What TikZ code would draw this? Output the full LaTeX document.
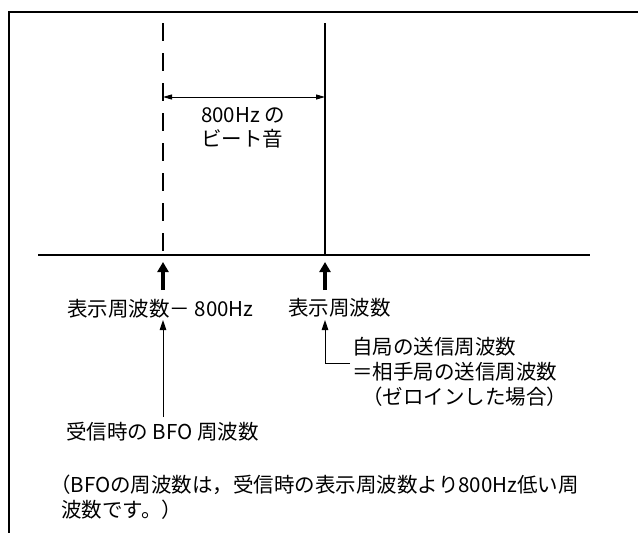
\documentclass[tikz,border=0pt]{standalone}
\usepackage{fontspec}
\setmainfont{Noto Sans CJK JP}
\usetikzlibrary{arrows.meta}
\begin{document}
\begin{tikzpicture}[x=1pt,y=-1pt,
  lbl/.style={anchor=west,inner sep=0pt,font=\fontsize{20.5}{21}\selectfont},
  axis/.style={line width=1.8pt},
  thickarrow/.style={line width=3.6pt,-{Triangle[width=11pt,length=10pt]}},
  thinarrow/.style={line width=1pt,-{Triangle[width=6.5pt,length=10pt]}},
  dimarrow/.style={line width=1pt,{Triangle[width=5pt,length=9pt]}-{Triangle[width=5pt,length=9pt]}}]
\useasboundingbox (0,0) rectangle (638,533);
% frame
\draw[line width=1.8pt] (9,533) -- (9,12) -- (638,12);
% axis and frequency lines
\coordinate (axL) at (38,255);
\coordinate (axR) at (590,255);
\coordinate (bfoTop) at (163,23);
\coordinate (bfoBot) at (163,255);
\coordinate (dspTop) at (325,23);
\coordinate (dspBot) at (325,255);
\draw[axis] (axL) -- (axR);
\draw[line width=1.8pt,dash pattern=on 18pt off 12pt] (bfoTop) -- (bfoBot);
\draw[axis] (dspTop) -- (dspBot);
% dimension
\coordinate (dimL) at (163,97);
\coordinate (dimR) at (325,97);
\draw[dimarrow] (dimL) -- (dimR);
\node[lbl] (beat1) at (201,115) {800Hz の};
\node[lbl] (beat2) at (201,139) {ビート音};
% thick arrows
\coordinate (ta1s) at (163,290);
\coordinate (ta1e) at (163,262);
\coordinate (ta2s) at (325,290);
\coordinate (ta2e) at (325,262);
\draw[thickarrow] (ta1s) -- (ta1e);
\draw[thickarrow] (ta2s) -- (ta2e);
\node[lbl] (lo) at (67,309) {表示周波数－ 800Hz};
\node[lbl] (disp) at (288,308) {表示周波数};
% BFO arrow
\node[lbl] (bfo) at (66,432) {受信時の BFO 周波数};
\coordinate (bfoArrS) at (163,417);
\coordinate (bfoArrE) at (163,320);
\draw[thinarrow] (bfoArrS) -- (bfoArrE);
% own tx arrow
\node[lbl] (own1) at (352,347) {自局の送信周波数};
\node[lbl] (own2) at (352,372) {＝相手局の送信周波数};
\node[lbl] (own3) at (362,397) {（ゼロインした場合）};
\coordinate (lS) at (350,363);
\coordinate (lC) at (325,363);
\coordinate (lE) at (325,320);
\draw[thinarrow] (lS) -- (lC) -- (lE);
% note
\node[lbl] (note1) at (50,485) {（BFOの周波数は，受信時の表示周波数より800Hz低い周};
\node[lbl] (note2) at (61,510) {波数です。）};
\end{tikzpicture}
\end{document}
